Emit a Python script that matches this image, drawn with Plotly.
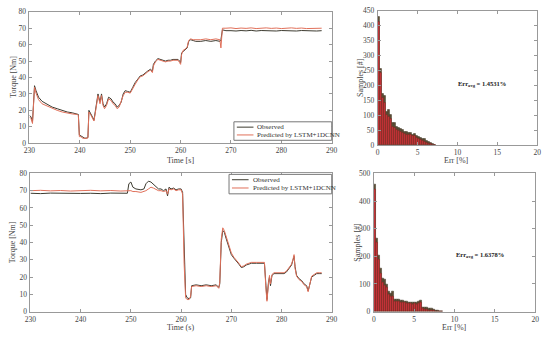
import plotly.graph_objects as go

# ---------------- data ----------------
# Top-left: torque time series
t_top = [230.0, 230.3, 230.6, 230.8, 231.0, 231.3, 231.8, 232.5, 233.5, 234.5, 235.5, 236.5, 237.5, 238.5,
         239.5, 239.7, 239.9, 240.2, 240.6, 241.0, 241.4, 241.6, 241.8, 242.2, 242.5, 242.8, 243.2, 243.6,
         244.0, 244.3, 244.6, 244.9, 245.3, 245.7, 246.2, 246.6, 247.0, 247.4, 247.8, 248.2, 248.6, 249.0,
         249.5, 250.0, 250.5, 251.0, 251.5, 252.0, 252.5, 253.0, 253.5, 254.0, 254.4, 254.6, 255.0, 255.5,
         256.0, 256.5, 257.0, 257.5, 258.0, 258.5, 259.0, 259.5, 259.8, 260.0, 260.2, 260.5, 261.0, 261.3,
         261.6, 262.0, 262.5, 263.0, 264.0, 265.0, 266.0, 267.0, 267.8, 268.0, 268.3, 269.0, 270.0, 271.0,
         272.0, 273.0, 274.0, 275.0, 276.0, 277.0, 278.0, 279.0, 280.0, 281.0, 282.0, 283.0, 284.0, 285.0,
         286.0, 287.0, 288.0]
obs_top = [17, 16, 13, 25, 35, 32, 28, 25.5, 23.5, 22, 21, 20, 19, 18.5,
           18, 17.5, 5, 4.5, 3.5, 3, 3.2, 3.5, 20, 18, 16, 14, 22, 30,
           25, 30, 24, 22, 24, 28, 27, 25, 24, 22, 23, 25, 30, 32,
           31.5, 31, 34, 37, 39, 41, 41.5, 43, 44, 45, 44, 48, 50, 51.5,
           51, 50.5, 50, 50.5, 50.5, 51, 51, 51, 50, 49, 55, 56, 57, 58,
           62, 63, 62.5, 62, 62, 62.5, 62, 62.5, 62, 63, 69, 68.5, 68.5, 68.3,
           68.6, 68.4, 68.7, 68.3, 68.6, 68.4, 68.5, 68.3, 68.6, 68.4, 68.5, 68.3, 68.6, 68.4,
           68.5, 68.3, 68.5]
pred_top = [16, 15, 12, 23, 34, 30.5, 26.5, 24, 22.5, 21, 20, 19, 18.3, 17.8,
            17.5, 17, 4, 4, 3, 2.8, 3, 3.2, 19, 17, 15, 13.5, 21, 29,
            24, 29, 23, 21, 23, 27, 26, 24, 23, 21, 22, 26, 29, 31,
            31, 30.5, 33.5, 36, 38.5, 40.5, 41, 42.5, 43.5, 44.5, 43, 47, 49.5, 51,
            50.5, 50, 49.5, 50, 50, 50.5, 50.5, 50.5, 49, 48, 54, 56.5, 57.5, 58.5,
            62.5, 63.5, 63, 63, 63, 63.5, 63, 63.5, 63, 58, 70, 70, 70.2, 69.8,
            70.1, 69.9, 70.2, 69.8, 70, 70.2, 69.9, 70.1, 69.8, 70, 70.2, 69.9, 70.1, 69.8,
            70, 70.1, 70]

# Bottom-left: torque time series
t_bot = [230.0, 232.0, 234.0, 236.0, 238.0, 240.0, 242.0, 244.0, 246.0, 248.0, 249.3, 249.6, 250.0, 250.4,
         251.0, 252.0, 252.6, 253.0, 253.5, 254.0, 254.5, 255.0, 255.5, 256.0, 256.5, 257.0, 257.3, 257.6,
         258.0, 258.5, 259.0, 259.5, 260.0, 260.3, 260.6, 260.9, 261.2, 261.6, 261.9, 262.1, 263.0, 264.0,
         265.0, 266.0, 267.0, 267.5, 267.7, 268.0, 268.3, 268.6, 269.0, 269.5, 270.0, 270.5, 271.0, 271.5,
         272.0, 272.5, 273.0, 274.0, 275.0, 276.0, 276.6, 276.9, 277.1, 277.4, 277.6, 277.8, 278.1, 278.5,
         279.0, 280.0, 280.5, 281.0, 281.5, 282.0, 282.3, 282.5, 282.7, 283.0, 283.5, 284.0, 284.5, 285.0,
         285.3, 285.6, 286.0, 286.5, 287.0, 287.5, 288.0]
obs_bot = [68.5, 68.3, 68.6, 68.4, 68.6, 68.4, 68.5, 68.3, 68.6, 68.4, 68.5, 74, 75, 72,
           71, 70.5, 71, 74, 75.5, 75, 73.5, 72, 71, 71, 70, 71, 67, 72,
           71, 71.5, 70.5, 71, 71, 69, 30, 10, 8, 7.5, 8, 15, 15.5, 15,
           15.5, 15, 15.5, 14, 16, 40, 47, 46, 42, 37, 33, 31, 29.5, 27.5,
           25.5, 26, 27, 28, 28, 28, 28, 15, 7, 17, 20, 15, 21, 22,
           22, 22, 22, 23, 25, 27, 30, 32, 26, 21, 19, 18, 16, 15,
           12, 16, 20, 21, 22, 22, 22]
pred_bot = [70, 70.2, 69.9, 70.1, 69.8, 70, 70.2, 69.9, 70.1, 69.8, 70, 70, 70, 69.5,
            69.5, 69, 69.5, 70, 71, 72, 71.5, 70.5, 70, 70, 69.5, 70, 68, 71,
            70.5, 71, 70, 70.5, 70.5, 68, 28, 8, 7, 7, 9, 14.5, 15, 14.5,
            15, 14.5, 15, 13.5, 17, 42, 48.5, 47, 43, 38, 34, 31.5, 30, 28,
            26, 26.5, 27.5, 28.5, 28.5, 28.5, 28.5, 13, 6, 16, 21, 16, 21.5, 22.5,
            22.5, 22.5, 22.5, 23.5, 25.5, 27.5, 30.5, 33, 25, 20.5, 18.5, 17.5, 15.5, 14.5,
            11.5, 15.5, 20.5, 21.5, 22.5, 22.5, 22.5]

# Histograms (bin width 0.25 %)
bins_top = [0.125, 0.375, 0.625, 0.875, 1.125, 1.375, 1.625, 1.875, 2.125, 2.375, 2.625, 2.875, 3.125, 3.375,
            3.625, 3.875, 4.125, 4.375, 4.625, 4.875, 5.125, 5.375, 5.625, 5.875, 6.125, 6.375, 6.625, 6.875,
            7.125]
hist_top_dark = [430, 255, 172, 165, 112, 118, 100, 75, 74, 62, 58, 56, 50, 46,
                 44, 42, 40, 36, 38, 32, 27, 25, 22, 20, 14, 10, 7, 4, 2]
hist_top_red = [412, 242, 158, 142, 102, 96, 88, 62, 58, 52, 48, 44, 41, 38,
                35, 36, 33, 30, 31, 25, 20, 18, 15, 12, 8, 5, 3, 2, 1]

bins_bot = [0.125, 0.375, 0.625, 0.875, 1.125, 1.375, 1.625, 1.875, 2.125, 2.375, 2.625, 2.875, 3.125, 3.375,
            3.625, 3.875, 4.125, 4.375, 4.625, 4.875, 5.125, 5.375, 5.625, 5.875, 6.125, 6.375, 6.625, 6.875,
            7.125, 7.375, 7.625, 7.875, 8.125, 8.375]
hist_bot_dark = [460, 265, 205, 155, 120, 118, 98, 75, 65, 72, 45, 45, 45, 42,
                 40, 38, 36, 35, 34, 33, 34, 32, 36, 40, 16, 15, 15, 13,
                 11, 9, 6, 4, 2, 1]
hist_bot_red = [442, 250, 190, 140, 106, 94, 86, 62, 54, 56, 38, 37, 38, 35,
                34, 33, 30, 30, 29, 28, 29, 27, 30, 33, 10, 8, 8, 6,
                4, 3, 2, 1, 1, 0]

legend_labels = ["Observed", "Predicted by LSTM+1DCNN"]
err_text_top = "<b>Err<sub>avg</sub> = 1.4531%</b>"
err_text_bot = "<b>Err<sub>avg</sub> = 1.6378%</b>"

# ---------------- styling ----------------
FONT = "Liberation Serif"
OBS_C = "#3d3b30"
PRED_C = "#e0705a"
DARK_BAR = "#5e5035"
RED_BAR = "#d2303a"
AX_C = "#999999"
TXT_C = "#444444"
W, H = 550, 340


def px(x):
    return x / W


def py(y):
    return 1 - y / H


fig = go.Figure()

# time series
fig.add_trace(go.Scatter(x=t_top, y=obs_top, mode="lines", name=legend_labels[0],
                         line=dict(color=OBS_C, width=1), xaxis="x", yaxis="y", showlegend=False))
fig.add_trace(go.Scatter(x=t_top, y=pred_top, mode="lines", name=legend_labels[1],
                         line=dict(color=PRED_C, width=1), xaxis="x", yaxis="y", showlegend=False))
fig.add_trace(go.Scatter(x=t_bot, y=obs_bot, mode="lines", name=legend_labels[0],
                         line=dict(color=OBS_C, width=1), xaxis="x3", yaxis="y3", showlegend=False))
fig.add_trace(go.Scatter(x=t_bot, y=pred_bot, mode="lines", name=legend_labels[1],
                         line=dict(color=PRED_C, width=1), xaxis="x3", yaxis="y3", showlegend=False))

# histograms
for xs, dark, red, xa, ya in [(bins_top, hist_top_dark, hist_top_red, "x2", "y2"),
                              (bins_bot, hist_bot_dark, hist_bot_red, "x4", "y4")]:
    fig.add_trace(go.Bar(x=xs, y=dark, width=0.25, marker=dict(color=DARK_BAR, line=dict(color="#3a3020", width=0.5)),
                         xaxis=xa, yaxis=ya, showlegend=False))
    fig.add_trace(go.Bar(x=xs, y=red, width=0.25, opacity=0.88,
                         marker=dict(color=RED_BAR, line=dict(color="#7a2a20", width=0.5)),
                         xaxis=xa, yaxis=ya, showlegend=False))


def ax(domain, rng, dtick, anchor, is_x):
    d = dict(domain=domain, range=rng, dtick=dtick, anchor=anchor,
             showgrid=False, zeroline=False, showline=True, linecolor=AX_C, linewidth=1,
             mirror="allticks", ticks="inside", ticklen=3, tickcolor=AX_C,
             tickfont=dict(family=FONT, size=7.5, color=TXT_C))
    if not is_x:
        d["ticklabelstandoff"] = 1
    return d


annotations = []
shapes = []


def title(text, x, y, angle=0, size=8):
    annotations.append(dict(text=text, x=px(x), y=py(y), xref="paper", yref="paper",
                            xanchor="center", yanchor="middle", showarrow=False, textangle=angle,
                            font=dict(family=FONT, size=size, color=TXT_C)))


title("Torque [Nm]", 7, 75, -90)
title("Time [s]", 178, 160.5)
title("Torque [Nm]", 7, 245, -90)
title("Time (s)", 178, 332.5)
title("Samples [#]", 363, 76, -90)
title("Err [%]", 461, 160.5)
title("Samples [#]", 359, 245, -90)
title("Err [%]", 458, 332.5)


def legend_box(x0, y0, x1, y1, rows):
    shapes.append(dict(type="rect", xref="paper", yref="paper", x0=px(x0), x1=px(x1), y0=py(y1), y1=py(y0),
                       line=dict(color="#777777", width=1), fillcolor="white", layer="above"))
    for (yy, color, label) in rows:
        shapes.append(dict(type="line", xref="paper", yref="paper", x0=px(x0 + 3), x1=px(x0 + 20),
                           y0=py(yy), y1=py(yy), line=dict(color=color, width=1), layer="above"))
        annotations.append(dict(text=label, x=px(x0 + 22), y=py(yy), xref="paper", yref="paper",
                                xanchor="left", yanchor="middle", showarrow=False,
                                font=dict(family=FONT, size=7, color="#333333")))


legend_box(233, 121, 333, 140, [(126.5, OBS_C, legend_labels[0]), (134.5, PRED_C, legend_labels[1])])
legend_box(228, 175, 333, 195, [(180.5, OBS_C, legend_labels[0]), (189, PRED_C, legend_labels[1])])

annotations.append(dict(text=err_text_top, x=9.8, y=205, xref="x2", yref="y2", xanchor="left", showarrow=False,
                        font=dict(family=FONT, size=6.5, color="#222222")))
annotations.append(dict(text=err_text_bot, x=9.9, y=205, xref="x4", yref="y4", xanchor="left", showarrow=False,
                        font=dict(family=FONT, size=6.5, color="#222222")))

fig.update_layout(
    width=W, height=H,
    margin=dict(l=0, r=0, t=0, b=0),
    paper_bgcolor="white", plot_bgcolor="white",
    barmode="overlay", bargap=0, showlegend=False,
    xaxis=ax([px(24), px(333)], [230, 290], 10, "y", True),
    yaxis=ax([py(143), py(8)], [0, 80], 10, "x", False),
    xaxis2=ax([px(380), px(543)], [0, 20], 5, "y2", True),
    yaxis2=ax([py(145), py(7)], [0, 450], 50, "x2", False),
    xaxis3=ax([px(25), px(333)], [230, 290], 10, "y3", True),
    yaxis3=ax([py(316), py(174)], [0, 80], 10, "x3", False),
    xaxis4=ax([px(376), px(541)], [0, 20], 5, "y4", True),
    yaxis4=ax([py(316), py(174)], [0, 500], 100, "x4", False),
    annotations=annotations,
    shapes=shapes,
)

fig.write_html("out.html", config={"displayModeBar": False},
               post_script="document.body.style.margin='0';document.body.style.overflow='hidden';")
